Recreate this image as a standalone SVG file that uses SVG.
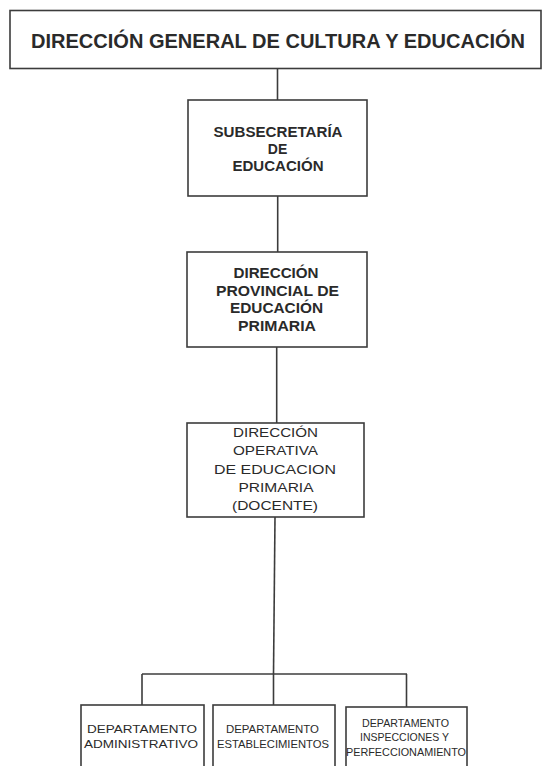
<svg xmlns="http://www.w3.org/2000/svg" width="543" height="766" viewBox="0 0 543 766">
<style>
.box{fill:#fff;stroke:#3c3c3c;stroke-width:1.6}
.ln{fill:none;stroke:#3c3c3c;stroke-width:1.6}
.t{font-family:"Liberation Sans",Arial,sans-serif;fill:#2a2a2a;text-anchor:middle}
.b{font-weight:bold}
.h{font-size:20px}
.m{font-size:14px}
.o{font-size:13px}
.s{font-size:10.5px}
</style>
<rect width="543" height="766" fill="#fff"/>
<g id="connectors">
<path class="ln" d="M277.5 68.5V100"/>
<path class="ln" d="M277.7 196V252"/>
<path class="ln" d="M276.7 347V423"/>
<path class="ln" d="M275 517L273.5 674"/>
<path class="ln" d="M142 674H407"/>
<path class="ln" d="M142 674V705"/>
<path class="ln" d="M273.5 674V705"/>
<path class="ln" d="M406.5 674V707"/>
</g>
<g id="direccion-general">
<rect class="box" x="10" y="10.5" width="531" height="58"/>
<text class="t b h" x="278" y="47.5" textLength="494" lengthAdjust="spacingAndGlyphs">DIRECCIÓN GENERAL DE CULTURA Y EDUCACIÓN</text>
</g>
<g id="subsecretaria">
<rect class="box" x="188" y="100" width="179" height="96"/>
<text class="t b m" x="278" y="137" textLength="129" lengthAdjust="spacingAndGlyphs">SUBSECRETARÍA</text>
<text class="t b m" x="277.5" y="154">DE</text>
<text class="t b m" x="278" y="171" textLength="91" lengthAdjust="spacingAndGlyphs">EDUCACIÓN</text>
</g>
<g id="direccion-provincial">
<rect class="box" x="187" y="252" width="180" height="95"/>
<text class="t b m" x="276" y="278" textLength="85" lengthAdjust="spacingAndGlyphs">DIRECCIÓN</text>
<text class="t b m" x="277.5" y="295.5" textLength="123" lengthAdjust="spacingAndGlyphs">PROVINCIAL DE</text>
<text class="t b m" x="276.5" y="313" textLength="93" lengthAdjust="spacingAndGlyphs">EDUCACIÓN</text>
<text class="t b m" x="277" y="330.5" textLength="78" lengthAdjust="spacingAndGlyphs">PRIMARIA</text>
</g>
<g id="direccion-operativa">
<rect class="box" x="187" y="423" width="177" height="94"/>
<text class="t o" x="275.5" y="437" textLength="85" lengthAdjust="spacingAndGlyphs">DIRECCIÓN</text>
<text class="t o" x="275.5" y="455" textLength="85" lengthAdjust="spacingAndGlyphs">OPERATIVA</text>
<text class="t o" x="275" y="474" textLength="122" lengthAdjust="spacingAndGlyphs">DE EDUCACION</text>
<text class="t o" x="276" y="492" textLength="75" lengthAdjust="spacingAndGlyphs">PRIMARIA</text>
<text class="t o" x="275" y="509.5" textLength="86" lengthAdjust="spacingAndGlyphs">(DOCENTE)</text>
</g>
<g id="depto-administrativo">
<rect class="box" x="81" y="705" width="123" height="80"/>
<text class="t s" x="142" y="733" textLength="110" lengthAdjust="spacingAndGlyphs">DEPARTAMENTO</text>
<text class="t s" x="141" y="747.5" textLength="114" lengthAdjust="spacingAndGlyphs">ADMINISTRATIVO</text>
</g>
<g id="depto-establecimientos">
<rect class="box" x="213" y="705" width="122" height="80"/>
<text class="t s" x="272.5" y="733" textLength="93" lengthAdjust="spacingAndGlyphs">DEPARTAMENTO</text>
<text class="t s" x="273" y="748" textLength="112" lengthAdjust="spacingAndGlyphs">ESTABLECIMIENTOS</text>
</g>
<g id="depto-inspecciones">
<rect class="box" x="346" y="707" width="121" height="80"/>
<text class="t s" x="405.5" y="727" textLength="87" lengthAdjust="spacingAndGlyphs">DEPARTAMENTO</text>
<text class="t s" x="404.5" y="741" textLength="89" lengthAdjust="spacingAndGlyphs">INSPECCIONES Y</text>
<text class="t s" x="406" y="755.5" textLength="120" lengthAdjust="spacingAndGlyphs">PERFECCIONAMIENTO</text>
</g>
</svg>
